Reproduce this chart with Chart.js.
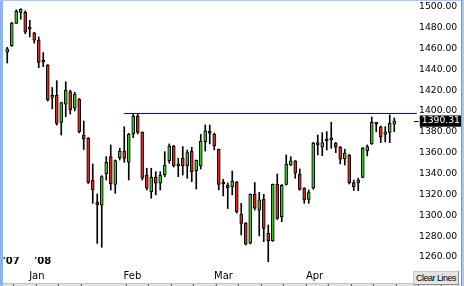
<!DOCTYPE html>
<html>
<head>
<meta charset="utf-8">
<script src="https://cdn.jsdelivr.net/npm/chart.js@4.4.1/dist/chart.umd.min.js"></script>
<style>
  body { margin: 0; background: #fff; }
  #wrap { position: relative; width: 464px; height: 286px; overflow: hidden; background: #fff; }
  #c { position: absolute; left: 0; top: 0; }
  .edge { position: absolute; }
  #strip {
    position: absolute; left: 3px; top: 283px; width: 457px; height: 3px; background: #e2e2e2;
    border-top: 1px solid #c4c4c4; box-sizing: border-box;
    background-image: repeating-linear-gradient(90deg, transparent 0, transparent 21.5px, #555 21.5px, #555 22.5px);
    background-position: -11.2px 0;
  }
  #clear {
    position: absolute; left: 413px; top: 271px; width: 46px; height: 14px;
    background: #e4e4e4; border: 1px solid #8c8c8c; border-top-color: #c8c8c8; border-left-color: #c8c8c8;
    box-sizing: border-box;
    font: 9px "Liberation Sans", sans-serif; letter-spacing: -0.5px; line-height: 12px;
    text-align: center; color: #000; white-space: nowrap;
  }
</style>
</head>
<body>
<div id="wrap">
  <canvas id="c" width="464" height="286"></canvas>
  <div class="edge" style="left:0;top:0;width:3px;height:286px;background:#8db3ea"></div>
  <div class="edge" style="left:0;top:0;width:464px;height:1px;background:#a9c8f2"></div>
  <div class="edge" style="left:461px;top:0;width:3px;height:286px;background:#a9c8f2;border-left:1px solid #6f97d8;box-sizing:border-box"></div>
  <div id="strip"></div>
  <div id="clear">Clear Lines</div>
</div>
<script>
// trading days shown on the chart
const dates = [
  "2007-12-20","2007-12-21","2007-12-24","2007-12-26","2007-12-27","2007-12-28","2007-12-31",
  "2008-01-02","2008-01-03","2008-01-04","2008-01-07","2008-01-08","2008-01-09","2008-01-10","2008-01-11",
  "2008-01-14","2008-01-15","2008-01-16","2008-01-17","2008-01-18","2008-01-22","2008-01-23","2008-01-24",
  "2008-01-25","2008-01-28","2008-01-29","2008-01-30","2008-01-31",
  "2008-02-01","2008-02-04","2008-02-05","2008-02-06","2008-02-07","2008-02-08","2008-02-11","2008-02-12",
  "2008-02-13","2008-02-14","2008-02-15","2008-02-19","2008-02-20","2008-02-21","2008-02-22","2008-02-25",
  "2008-02-26","2008-02-27","2008-02-28","2008-02-29",
  "2008-03-03","2008-03-04","2008-03-05","2008-03-06","2008-03-07","2008-03-10","2008-03-11","2008-03-12",
  "2008-03-13","2008-03-14","2008-03-17","2008-03-18","2008-03-19","2008-03-20","2008-03-24","2008-03-25",
  "2008-03-26","2008-03-27","2008-03-28","2008-03-31",
  "2008-04-01","2008-04-02","2008-04-03","2008-04-04","2008-04-07","2008-04-08","2008-04-09","2008-04-10",
  "2008-04-11","2008-04-14","2008-04-15","2008-04-16","2008-04-17","2008-04-18","2008-04-21","2008-04-22",
  "2008-04-23","2008-04-24","2008-04-25"
];

const open = [
  1456.5,1462.5,1484,1494.5,1494.5,1479.5,1475,1468,1447.5,1444,
  1413,1415,1389,1406.5,1418.5,1402.6,1411.2,1377,1373.8,1333.8,
  1312.5,1309.6,1339.6,1356.2,1329.7,1355.2,1361.6,1350.8,1377.9,1395.2,
  1379.6,1338.6,1322.6,1336.4,1330.7,1338.6,1352.4,1366.4,1347.3,1354.7,
  1347.6,1361.6,1342.8,1347.3,1370.6,1380.2,1377.9,1363.3,1330.7,1329,
  1327.1,1331.9,1301.2,1292.6,1273.2,1320.1,1304.8,1315.3,1282.7,1275.6,
  1329.7,1298.7,1329.7,1348.2,1352.1,1339.3,1325.9,1315.3,1325.9,1369.6,
  1365.2,1371.2,1372.2,1369,1365.5,1354.3,1357.8,1331.3,1331,1336.4,
  1361.9,1368.4,1387.5,1384.9,1377.5,1379.4,1387.3
];
const high = [
  1461,1485,1497,1498,1496,1487,1475.5,1471,1456,1444.5,
  1422.5,1429,1408.5,1428,1420,1418,1412,1390.4,1374.5,1349.2,
  1320.4,1338,1356.2,1367.4,1353,1364.2,1384.9,1378.5,1397,1397,
  1380,1345.1,1345.1,1341.8,1341.8,1361,1368.4,1367,1354.7,1365.8,
  1362.6,1365.2,1353,1377.5,1386.6,1386.6,1378.9,1363.5,1334.5,1331,
  1342.5,1332.5,1311.5,1293,1320.5,1331.4,1321.9,1320.1,1290.7,1330,
  1339.6,1329.5,1357.8,1356.2,1352.5,1344.4,1326.5,1324.3,1370,1377,
  1379.2,1380.2,1389.2,1370,1366,1363.3,1358.5,1333.8,1335.5,1365,
  1367.4,1394.2,1389,1385.6,1384.9,1396.2,1393.3
];
const low = [
  1446,1462,1484,1488,1474,1471,1465,1441.5,1442.5,1409.5,
  1402,1386.5,1377,1394.5,1397,1400,1379,1363.1,1330.5,1311.5,
  1273,1269.3,1333.8,1324.3,1321.1,1353,1350.8,1333.8,1374.4,1378,
  1333.8,1324.3,1316.3,1319.5,1324.3,1337,1349.9,1346.3,1337,1338.6,
  1335.5,1332.2,1325.2,1344.4,1361.6,1368.4,1362.6,1324.3,1318.5,1306.5,
  1319.5,1302,1281.1,1271.5,1272.5,1305,1280.2,1274.7,1255.5,1275,
  1296,1293.9,1329,1347.7,1335.5,1324,1311.5,1311.5,1325,1357.8,
  1357.1,1362.6,1364.2,1360,1349.2,1348.2,1330,1323.8,1323.6,1336,
  1356.9,1368,1380,1369.6,1370.3,1369.6,1380.2
];
const close = [
  1459.5,1484,1495.5,1497.5,1475.5,1478.5,1468,1446.5,1447,1410.5,
  1415,1388,1408,1420,1401,1416.3,1380.2,1372.9,1331.4,1324.3,
  1310,1337,1350.8,1330,1352.5,1361.6,1354.5,1377.7,1395.2,1379.4,
  1335.5,1325.9,1336.4,1330.7,1338.6,1348.2,1366.4,1347.6,1349.2,1347.6,
  1360,1341.8,1352.7,1371.2,1381,1378.6,1366.7,1329.7,1330,1326.5,
  1332.9,1303.5,1292.3,1272.2,1320.1,1306.7,1314.7,1287.5,1275.6,1329.7,
  1297.1,1328.8,1349.2,1352.1,1340.3,1324.9,1314.7,1321.7,1369.3,1367.4,
  1369.6,1372.7,1372.7,1365.2,1353.7,1359.7,1331.3,1327.4,1333.8,1364.2,
  1365.8,1389.2,1387.5,1374.8,1379.9,1388.2,1390.31
];

// price axis ticks and the drawn resistance line
const priceTicks = [1260,1280,1300,1320,1340,1360,1380,1400,1420,1440,1460,1480,1500];
const lineFrom = 26, lineTo = 91, lineLevel = 1397.6;
const lastClose = close[close.length - 1];

const monthNames = ["Jan","Feb","Mar","Apr","May","Jun","Jul","Aug","Sep","Oct","Nov","Dec"];
const UP = "#36c21f", DOWN = "#e3261a";
const Y_MIN = 1260, Y_MAX = 1506.4;

function yearLabel(i) {
  if (i === 0 || dates[i].slice(0, 4) !== dates[i - 1].slice(0, 4)) return "'" + dates[i].slice(2, 4);
  return "";
}
function monthLabel(i) {
  if (i > 0 && dates[i].slice(5, 7) !== dates[i - 1].slice(5, 7)) return monthNames[+dates[i].slice(5, 7) - 1];
  return "";
}
// no extra room for half labels at the ends of the price axes
function noPad(s) { s.paddingTop = 0; s.paddingBottom = 0; }

new Chart(document.getElementById("c"), {
  data: {
    labels: dates,
    datasets: [
      {
        type: "line",
        xAxisID: "xl",
        data: [{ x: lineFrom, y: lineLevel }, { x: lineTo, y: lineLevel }],
        borderColor: "#0000c0",
        borderWidth: 1,
        pointRadius: 0,
        clip: false,
        order: 0
      },
      {
        type: "bar",
        data: open.map((o, i) => [o, close[i]]),
        backgroundColor: open.map((o, i) => close[i] >= o ? UP : DOWN),
        borderColor: "#000",
        borderWidth: 1,
        borderSkipped: false,
        barThickness: 3,
        minBarLength: 2,
        grouped: false,
        clip: false,
        order: 1
      },
      {
        type: "bar",
        data: low.map((l, i) => [l, high[i]]),
        backgroundColor: "#000",
        borderWidth: 0,
        barThickness: 1,
        grouped: false,
        clip: false,
        order: 2
      }
    ]
  },
  options: {
    responsive: false,
    animation: false,
    events: [],
    layout: { padding: { left: 5, right: 4, top: 0, bottom: 0 } },
    plugins: { legend: { display: false }, tooltip: { enabled: false } },
    scales: {
      x: {
        type: "category",
        position: "bottom",
        weight: 0,
        grid: { display: false, drawTicks: false },
        border: { display: false },
        ticks: {
          autoSkip: false, maxRotation: 0, padding: -2, labelOffset: 4,
          color: "#000",
          font: { family: "DejaVu Sans", size: 10, weight: "bold" },
          callback: (v, i) => yearLabel(i)
        },
        afterFit: s => { s.height = 13; }
      },
      xm: {
        type: "category",
        position: "bottom",
        weight: 1,
        labels: dates,
        grid: { display: false, drawTicks: false },
        border: { display: false },
        ticks: {
          autoSkip: false, maxRotation: 0, padding: 0,
          color: "#000",
          font: { family: "DejaVu Sans", size: 10 },
          callback: (v, i) => monthLabel(i)
        },
        afterFit: s => { s.height = 16; }
      },
      xl: {
        type: "linear",
        display: false,
        offset: false,
        min: -0.5,
        max: dates.length - 0.5
      },
      y: {
        type: "linear",
        position: "right",
        weight: 0,
        min: Y_MIN,
        max: Y_MAX,
        border: { display: false },
        grid: {
          drawOnChartArea: false,
          tickLength: 22,
          tickBorderDash: [0, 17, 5, 100],
          tickColor: ctx => ctx.tick && ctx.tick.value === lastClose ? "#000" : "rgba(0,0,0,0)"
        },
        afterBuildTicks: s => { s.ticks = priceTicks.concat([lastClose]).map(v => ({ value: v })); },
        ticks: {
          autoSkip: false,
          padding: 0.5,
          font: { family: "DejaVu Sans", size: 9.25, lineHeight: 1 },
          color: "#000",
          callback: v => v === lastClose ? "" : v.toFixed(2)
        },
        afterFit: s => { s.width = 63.5; noPad(s); }
      },
      // last price marker, white on black, hung off the outer edge
      yl: {
        type: "linear",
        position: "right",
        weight: 1,
        min: Y_MIN,
        max: Y_MAX,
        border: { display: false },
        grid: { display: false, drawTicks: false },
        afterBuildTicks: s => { s.ticks = [{ value: lastClose }]; },
        ticks: {
          autoSkip: false,
          mirror: true,
          padding: 0,
          font: { family: "DejaVu Sans", size: 9.25, lineHeight: 1 },
          color: "#fff",
          showLabelBackdrop: true,
          backdropColor: "#000",
          backdropPadding: { x: 2, y: 1 },
          callback: v => v.toFixed(2)
        },
        afterFit: s => { s.width = 0; noPad(s); }
      }
    }
  }
});
</script>
</body>
</html>
